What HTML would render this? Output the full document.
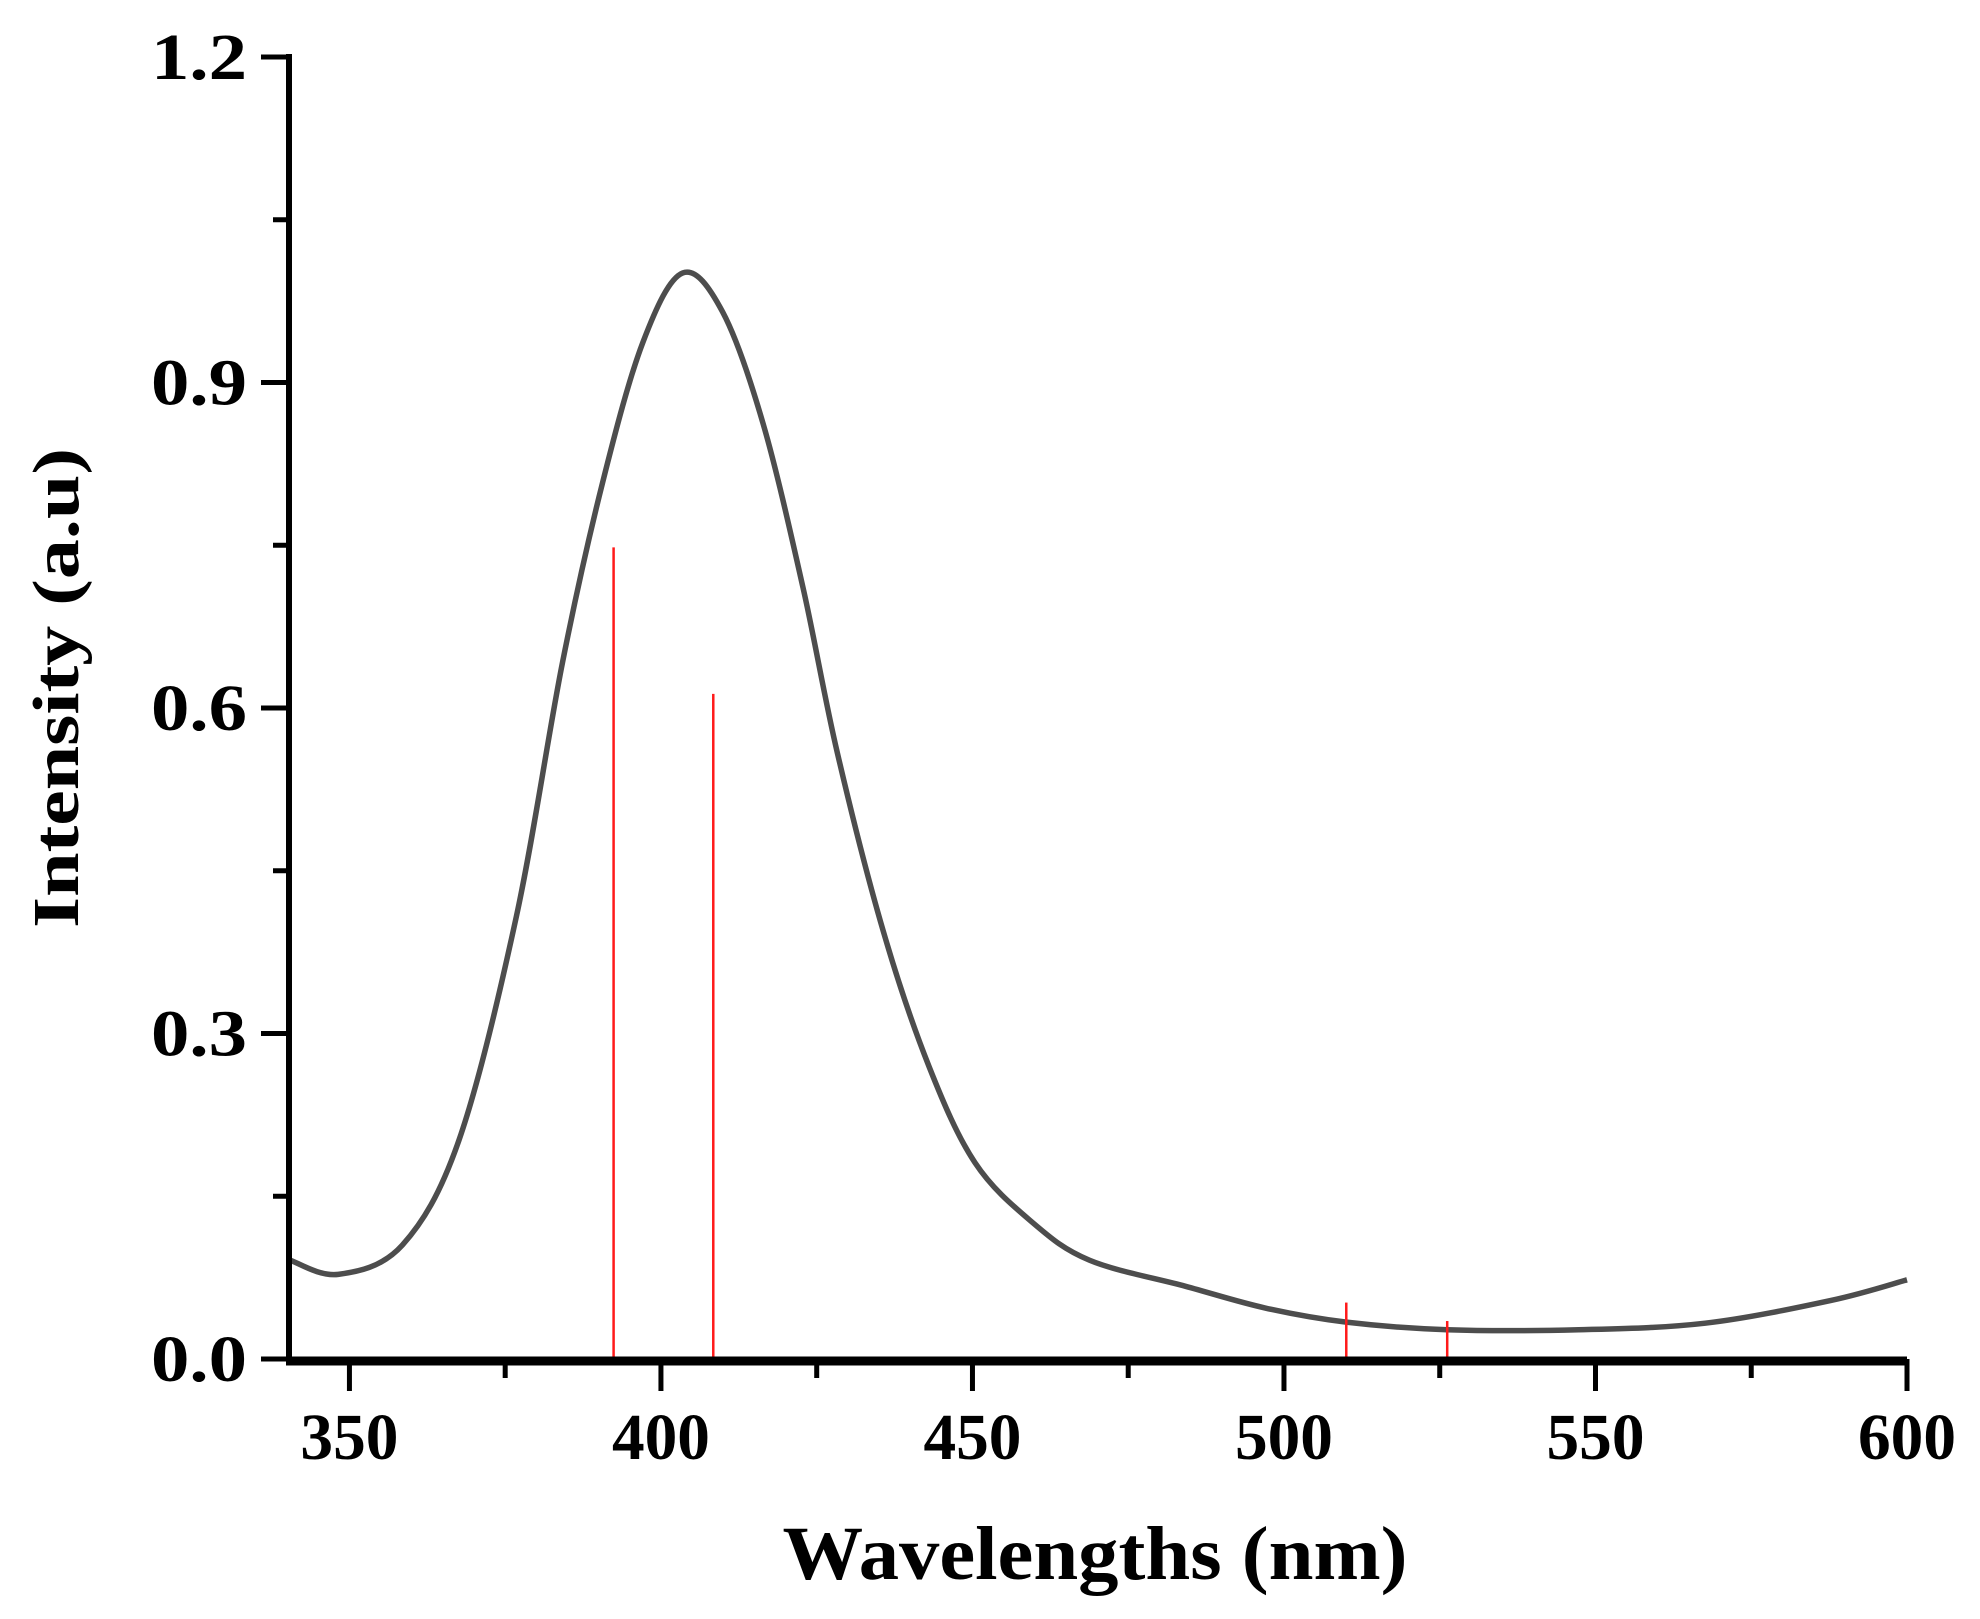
<!DOCTYPE html>
<html><head><meta charset="utf-8"><style>html,body{margin:0;padding:0;background:#fff}svg{display:block}</style></head>
<body>
<svg id="chart" width="1980" height="1619" viewBox="0 0 1980 1619" xmlns="http://www.w3.org/2000/svg" font-family="'Liberation Serif', serif" font-weight="bold">
<g id="marks"></g>
<g id="axes"></g>
<text x="0" y="0" transform="translate(78,688) rotate(-90)" text-anchor="middle" font-size="66" textLength="480" lengthAdjust="spacingAndGlyphs">Intensity (a.u)</text>
<text x="1095" y="1579" text-anchor="middle" font-size="76" textLength="625" lengthAdjust="spacingAndGlyphs">Wavelengths (nm)</text>
</svg>
<script>
const curveX = [340.1,348.2,358.5,367.6,376.8,384.2,390.6,397.1,403.5,409.9,416.4,422.8,428.3,435.7,443,450.4,459.6,468.8,484.2,497,510,526.2,547.3,567.6,587.8,600];
const curveY = [0.0915,0.078,0.105,0.202,0.408,0.642,0.807,0.937,1.001,0.965,0.862,0.711,0.559,0.394,0.270,0.181,0.126,0.091,0.067,0.047,0.034,0.027,0.027,0.033,0.054,0.073];
const stickX = [392.4,408.4,510,526.2];
const stickY = [0.748,0.613,0.052,0.035];
const xTicks = [350,400,450,500,550,600];
const xTickLabels = ["350","400","450","500","550","600"];
const yTicks = [0,0.3,0.6,0.9,1.2];
const yTickLabels = ["0.0","0.3","0.6","0.9","1.2"];

const X0=340.3, X1=600, PX0=289, PX1=1907;
const Y0=0, Y1=1.2, PY0=1359, PY1=57;
const sx=v=>PX0+(v-X0)/(X1-X0)*(PX1-PX0);
const sy=v=>PY0+(v-Y0)/(Y1-Y0)*(PY1-PY0);
const NS="http://www.w3.org/2000/svg";
const marks=document.getElementById('marks'), axes=document.getElementById('axes');
function mk(tag,attrs,parent){const e=document.createElementNS(NS,tag);for(const k in attrs)e.setAttribute(k,attrs[k]);parent.appendChild(e);return e;}

const pts=curveX.map((x,i)=>[Math.max(sx(x),PX0),sy(curveY[i])]);
let d=`M${pts[0][0]},${pts[0][1]}`;
for(let i=0;i<pts.length-1;i++){
  const p0=pts[Math.max(0,i-1)],p1=pts[i],p2=pts[i+1],p3=pts[Math.min(pts.length-1,i+2)];
  const c1=[p1[0]+(p2[0]-p0[0])/6,p1[1]+(p2[1]-p0[1])/6];
  const c2=[p2[0]-(p3[0]-p1[0])/6,p2[1]-(p3[1]-p1[1])/6];
  d+=` C${c1[0]},${c1[1]} ${c2[0]},${c2[1]} ${p2[0]},${p2[1]}`;
}
const curve=mk('path',{d:d,fill:'none',stroke:'#4d4d4d','stroke-width':5.5,'stroke-linejoin':'round'},marks);



stickX.forEach((x,i)=>{
  const l=mk('line',{x1:sx(x),x2:sx(x),y1:sy(0),y2:sy(stickY[i]),stroke:'#ff1a1a','stroke-width':2.5},marks);
  
  
});

const ya=mk('line',{x1:PX0,x2:PX0,y1:PY1-3,y2:PY0+5,stroke:'#000','stroke-width':6},axes);


const xa=mk('line',{x1:PX0-3,x2:PX1,y1:PY0+2,y2:PY0+2,stroke:'#000','stroke-width':9},axes);



for(let v=0;v<=1.2001;v+=0.15){
  const major=Math.abs(v/0.3-Math.round(v/0.3))<1e-6;
  const t=mk('line',{x1:PX0,x2:PX0-(major?28:16),y1:sy(v),y2:sy(v),stroke:'#000','stroke-width':5},axes);
  
  
}
yTicks.forEach((v,i)=>{
  const t=mk('text',{x:247,y:sy(v)+22,'text-anchor':'end','font-size':66,textLength:96,lengthAdjust:'spacingAndGlyphs'},axes);
  t.textContent=yTickLabels[i];
  
  
});
for(let v=350;v<=600;v+=25){
  const major=v%50===0;
  const t=mk('line',{x1:sx(v),x2:sx(v),y1:PY0,y2:PY0+(major?32:19),stroke:'#000','stroke-width':5},axes);
  
  
}
xTicks.forEach((v,i)=>{
  const t=mk('text',{x:sx(v),y:1459,'text-anchor':'middle','font-size':66,textLength:98,lengthAdjust:'spacingAndGlyphs'},axes);
  t.textContent=xTickLabels[i];
  
  
});
</script>
</body></html>
